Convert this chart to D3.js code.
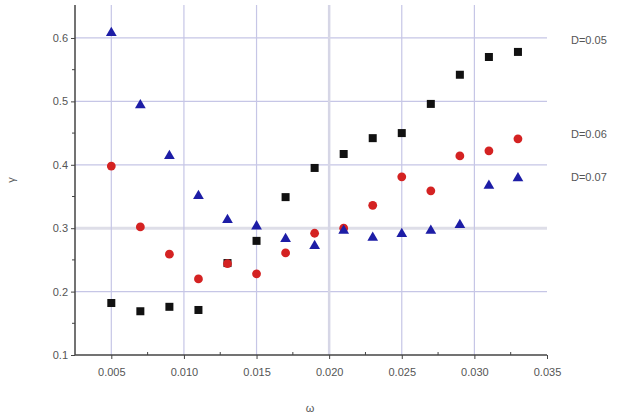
<!DOCTYPE html>
<html>
<head>
<meta charset="utf-8">
<script src="https://cdn.jsdelivr.net/npm/d3@7"></script>
<style>
body { margin: 0; background: #fff; }
text { font-family: "Liberation Sans", Arial, sans-serif; fill: #555; }
</style>
</head>
<body>
<svg id="vis" width="622" height="417"></svg>
<script>
const omega = [0.005, 0.007, 0.009, 0.011, 0.013, 0.015, 0.017, 0.019, 0.021, 0.023, 0.025, 0.027, 0.029, 0.031, 0.033]

const d05 = [0.182, 0.169, 0.176, 0.171, 0.245, 0.280, 0.349, 0.395, 0.417, 0.442, 0.450, 0.496, 0.542, 0.570, 0.578]
const d06 = [0.398, 0.302, 0.259, 0.220, 0.244, 0.228, 0.261, 0.292, 0.300, 0.336, 0.381, 0.359, 0.414, 0.422, 0.441]
const d07 = [0.608, 0.494, 0.414, 0.351, 0.313, 0.303, 0.283, 0.272, 0.296, 0.285, 0.291, 0.296, 0.305, 0.367, 0.379]

const xTicks = [0.005, 0.010, 0.015, 0.020, 0.025, 0.030, 0.035]
const yTicks = [0.1, 0.2, 0.3, 0.4, 0.5, 0.6]

const seriesNames = ["D=0.05", "D=0.06", "D=0.07"]
const labelY = [0.597, 0.448, 0.38]

let svg = d3.select("#vis")

let xScale = d3.scaleLinear().domain([0.0025, 0.035]).range([75, 547])
let yScale = d3.scaleLinear().domain([0.1, 0.652]).range([355, 5])

// grid
let grid = svg.append("g")
grid.selectAll("line.h")
    .data(yTicks.slice(1))
    .enter().append("line")
    .attr("x1", 75).attr("x2", 547)
    .attr("y1", d => yScale(d)).attr("y2", d => yScale(d))
    .attr("stroke", d => d === 0.3 ? "#dedee8" : "#c6c6e6")
    .attr("stroke-width", d => d === 0.3 ? 3 : 1.2)
grid.selectAll("line.v")
    .data(xTicks.slice(0, 6))
    .enter().append("line")
    .attr("y1", 5).attr("y2", 355)
    .attr("x1", d => xScale(d)).attr("x2", d => xScale(d))
    .attr("stroke", d => d === 0.02 ? "#d6d6e6" : "#c6c6e6")
    .attr("stroke-width", d => d === 0.02 ? 2.5 : 1.2)

// axes
let xAxis = d3.axisBottom(xScale).tickValues(xTicks).tickFormat(d3.format(".3f")).tickSize(4).tickPadding(9)
let yAxis = d3.axisLeft(yScale).tickValues(yTicks).tickFormat(d3.format(".1f")).tickSize(4).tickPadding(3)

let xg = svg.append("g").attr("transform", "translate(0,355)").call(xAxis)
let yg = svg.append("g").attr("transform", "translate(75,0)").call(yAxis)
;[xg, yg].forEach(g => {
    g.select(".domain").attr("stroke", "#444").attr("stroke-width", 1.5)
    g.selectAll(".tick line").attr("stroke", "#444")
    g.selectAll(".tick text").attr("fill", "#666").style("font-size", "11px")
        .style("font-family", "Liberation Sans, Arial, sans-serif")
})
yg.select(".domain").attr("d", "M0," + 5 + "V355")
xg.select(".domain").attr("d", "M75,0H547")

// minor ticks
let xMinor = d3.range(0.0075, 0.035, 0.005)
svg.append("g").selectAll("line")
    .data(xMinor).enter().append("line")
    .attr("x1", d => xScale(d)).attr("x2", d => xScale(d))
    .attr("y1", 352).attr("y2", 355)
    .attr("stroke", "#444")
let yMinor = [0.15, 0.25, 0.35, 0.45, 0.55]
svg.append("g").selectAll("line")
    .data(yMinor).enter().append("line")
    .attr("x1", 72).attr("x2", 75)
    .attr("y1", d => yScale(d)).attr("y2", d => yScale(d))
    .attr("stroke", "#444")

// points
let plot = svg.append("g")
plot.selectAll("rect")
    .data(omega.map((w, i) => [w, d05[i]]))
    .enter().append("rect")
    .attr("x", d => xScale(d[0]) - 4)
    .attr("y", d => yScale(d[1]) - 4)
    .attr("width", 8).attr("height", 8)
    .attr("fill", "#111")
plot.selectAll("circle")
    .data(omega.map((w, i) => [w, d06[i]]))
    .enter().append("circle")
    .attr("cx", d => xScale(d[0]))
    .attr("cy", d => yScale(d[1]))
    .attr("r", 4.4)
    .attr("fill", "#d42222")
let tri = d3.symbol().type(d3.symbolTriangle).size(50)
plot.selectAll("path.tri")
    .data(omega.map((w, i) => [w, d07[i]]))
    .enter().append("path")
    .attr("class", "tri")
    .attr("d", tri)
    .attr("transform", d => "translate(" + xScale(d[0]) + "," + yScale(d[1]) + ")")
    .attr("fill", "#1d1da6")

// series labels
svg.append("g").selectAll("text")
    .data(seriesNames)
    .enter().append("text")
    .attr("x", 571)
    .attr("y", (d, i) => yScale(labelY[i]) + 4)
    .style("font-size", "11px")
    .text(d => d)

// axis titles
svg.append("text")
    .attr("transform", "translate(15,180) rotate(-90)")
    .attr("text-anchor", "middle")
    .style("font-size", "11px")
    .text("γ")
svg.append("text")
    .attr("x", 310).attr("y", 412)
    .attr("text-anchor", "middle")
    .style("font-size", "11px")
    .text("ω")
</script>
</body>
</html>
